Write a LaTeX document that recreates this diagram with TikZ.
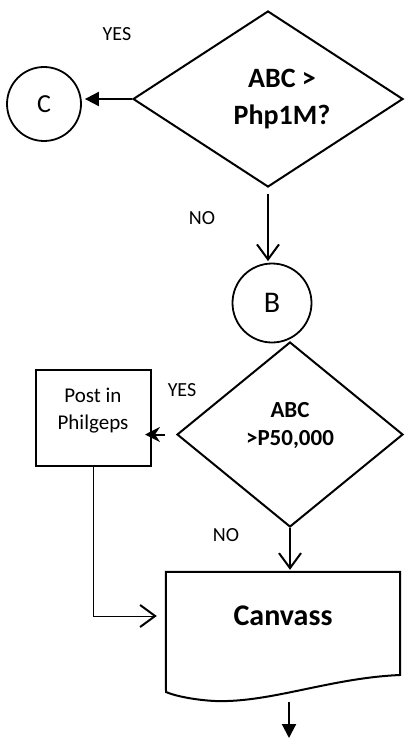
\documentclass[tikz,border=0pt]{standalone}
\usepackage{fontspec}
\setmainfont{Carlito}
\usetikzlibrary{shapes.geometric,arrows.meta}
\tikzset{
  decision/.style={diamond,draw,line width=2pt,inner sep=0pt},
  connector/.style={circle,draw,line width=1.8pt,inner sep=0pt},
  procbox/.style={rectangle,draw,line width=2pt,inner sep=0pt},
  yesno/.style={font=\fontsize{20pt}{24pt}\selectfont},
  openarr/.style={line width=2pt,-{Straight Barb[length=15pt,width=22pt]}},
  fillarr/.style={line width=2pt,-{Triangle[length=14pt,width=14pt]}}
}
\begin{document}
\begin{tikzpicture}[x=1pt,y=-1pt]
\useasboundingbox (0,0) rectangle (405,738);
\node[decision,minimum width=270pt,minimum height=176pt] (dec1) at (268,99) {};
\node[align=center,font=\fontsize{28pt}{37pt}\selectfont\bfseries] (q1) at (282,99) {ABC >\\Php1M?};
\node[connector,minimum size=74pt,font=\fontsize{26pt}{30pt}\selectfont] (conC) at (44,104) {C};
\node[connector,minimum size=79pt,font=\fontsize{30pt}{34pt}\selectfont] (conB) at (272,303) {B};
\node[decision,minimum width=226pt,minimum height=185pt] (dec2) at (290,434.5) {};
\node[align=center,font=\fontsize{23pt}{28pt}\selectfont\bfseries] (q2) at (290,426) {ABC\\>P50,000};
\node[procbox,minimum width=115pt,minimum height=96pt] (post) at (93.5,418) {};
\node[align=center,font=\fontsize{21pt}{27pt}\selectfont] (posttxt) at (93,411) {Post in\\Philgeps};
\node[minimum width=234pt,minimum height=88pt,font=\fontsize{30pt}{36pt}\selectfont\bfseries] (canvass) at (283,616) {Canvass};
\draw[line width=2pt] (canvass.north west) -- (canvass.north east) -- (400,675)
  .. controls (330,678) and (270,703) .. (215,701)
  .. controls (195,700) and (175,696) .. (166,692) -- cycle;
\coordinate (out) at (289,702);
\coordinate (exit) at (289,738);

\node[yesno] (yes1) at (117,34) {YES};
\node[yesno] (no1) at (202,218) {NO};
\node[yesno] (yes2) at (182,390) {YES};
\node[yesno] (no2) at (226,535) {NO};

\draw[fillarr,shorten >=3pt] (dec1.west) -- (dec1.west -| conC.east);
\draw[openarr,shorten <=6pt,shorten >=1.5pt] (dec1.south) -- (dec1.south |- conB.north);
\draw[line width=2pt,-{Stealth[length=15pt,width=15pt,inset=5pt]},shorten <=11pt,shorten >=-7pt] (dec2.west) -- (dec2.west -| post.east);
\draw[openarr,shorten >=2pt] (dec2.south) -- (dec2.south |- canvass.north);
\draw[line width=1pt,-{Straight Barb[length=15pt,width=22pt,line width=2pt]},shorten >=9pt] (post.south) |- (canvass.west);
\draw[fillarr] (out) -- (exit);
\end{tikzpicture}
\end{document}
